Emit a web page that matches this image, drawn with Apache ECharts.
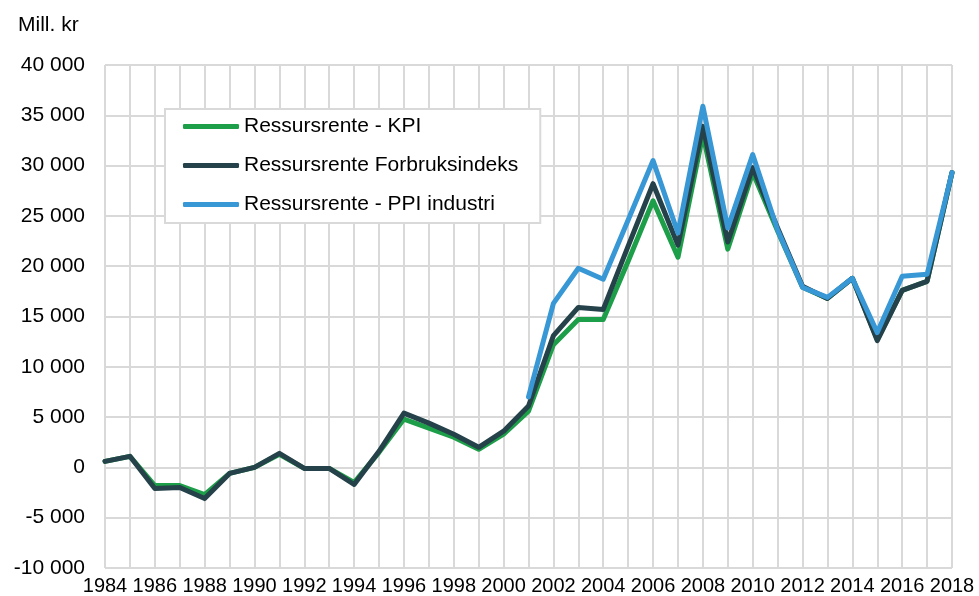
<html lang="no">
<head>
  <meta charset="utf-8"/>
  <script src="https://cdn.jsdelivr.net/npm/echarts@6/dist/echarts.min.js"></script>
  <style>
    html, body { margin: 0; padding: 0; background: #fff; }
    #chart { width: 979px; height: 596px; }
  </style>
</head>
<body>
<div id="chart"></div>
<script>
    // år 1984-2018
    var years = [];
    for (var y = 1984; y <= 2018; y++) { years.push(String(y)); }

    var seriesNames = ['Ressursrente - KPI', 'Ressursrente Forbruksindeks', 'Ressursrente - PPI industri'];

    // mill. kr
    var kpi = [600, 1100, -1800, -1800, -2700, -600, 0, 1300, -100, -100,
        -1500, 1500, 4800, 3900, 3000, 1800, 3300, 5600, 12200, 14700,
        14700, 20500, 26500, 20900, 33100, 21700, 29300, 23500, 17900, 16800,
        18800, 12700, 17600, 18500, 29300];
    var forbruk = [600, 1100, -2100, -2000, -3100, -600, 0, 1400, -100, -100,
        -1700, 1600, 5400, 4400, 3300, 2000, 3600, 6100, 13100, 15900,
        15700, 22000, 28200, 22100, 33900, 22400, 29800, 23800, 18000, 16800,
        18800, 12600, 17600, 18500, 29300];
    var ppi = [null, null, null, null, null, null, null, null, null, null,
        null, null, null, null, null, null, null, 7000, 16300, 19800,
        18700, 24600, 30500, 23300, 35900, 23800, 31100, 23600, 17900, 16900,
        18800, 13400, 19000, 19200, 29300];

    var yTicks = { min: -10000, max: 40000, step: 5000 };
    var colors = ['#1d9e48', '#25414a', '#3897d5'];
    var font = '"Liberation Sans", Arial, sans-serif';

    function fmt(v) {
        var s = String(Math.abs(v)).replace(/\B(?=(\d{3})+(?!\d))/g, ' ');
        return (v < 0 ? '-' : '') + s;
    }

    function lineSeries(name, data, color) {
        return {
            name: name,
            type: 'line',
            data: data,
            symbol: 'none',
            color: color,
            lineStyle: { width: 5, color: color, cap: 'round', join: 'round' }
        };
    }

    var myChart = echarts.init(document.getElementById('chart'));
    var option = {
        animation: false,
        textStyle: { fontFamily: font },
        title: {
            text: 'Mill. kr',
            left: 18,
            top: 15,
            padding: 0,
            textStyle: { fontFamily: font, fontSize: 21, fontWeight: 'normal', color: '#000' }
        },
        grid: { left: 105, right: 27, top: 65, bottom: 28, containLabel: false },
        legend: {
            orient: 'vertical',
            left: 165,
            top: 109,
            padding: [7, 22, 8, 18],
            backgroundColor: '#fff',
            borderColor: '#d9d9d9',
            borderWidth: 2,
            borderRadius: 0,
            icon: 'roundRect',
            itemWidth: 56,
            itemHeight: 5,
            itemGap: 18,
            textStyle: { fontFamily: font, fontSize: 21, color: '#000', lineHeight: 21 },
            data: seriesNames
        },
        xAxis: {
            type: 'category',
            data: years,
            boundaryGap: false,
            axisLine: { show: true, lineStyle: { color: '#d9d9d9', width: 2 } },
            axisTick: { show: false },
            axisLabel: { interval: 1, margin: 8, fontSize: 20, color: '#000', fontFamily: font },
            splitLine: { show: true, interval: 0, lineStyle: { color: '#d9d9d9', width: 2 } }
        },
        yAxis: {
            type: 'value',
            min: yTicks.min,
            max: yTicks.max,
            interval: yTicks.step,
            axisLine: { show: false },
            axisTick: { show: false },
            axisLabel: { margin: 20, fontSize: 21, color: '#000', fontFamily: font, formatter: fmt },
            splitLine: { show: true, lineStyle: { color: '#d9d9d9', width: 2 } }
        },
        series: [
            lineSeries(seriesNames[0], kpi, colors[0]),
            lineSeries(seriesNames[1], forbruk, colors[1]),
            lineSeries(seriesNames[2], ppi, colors[2])
        ]
    };
    myChart.setOption(option);
</script>
</body>
</html>
